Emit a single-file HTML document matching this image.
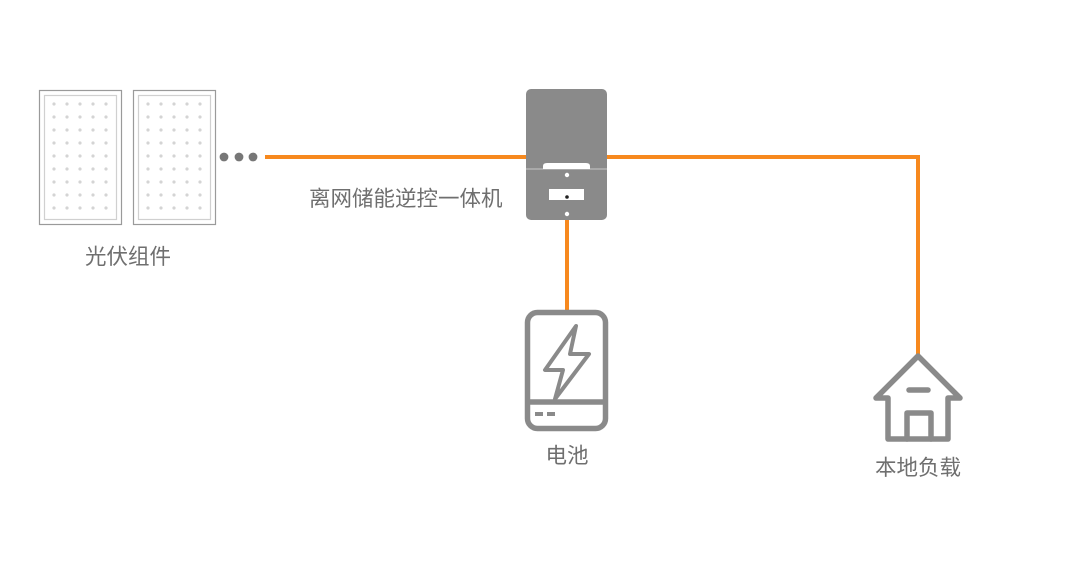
<!DOCTYPE html>
<html><head><meta charset="utf-8"><style>
html,body{margin:0;padding:0;background:#fff}
svg text{font-family:"Liberation Sans","Noto Sans CJK SC",sans-serif;fill:#6f6f6f;font-size:21.5px}
</style></head><body>
<svg width="1080" height="579" viewBox="0 0 1080 579" xmlns="http://www.w3.org/2000/svg">
<defs>
<g id="dots" fill="#d4d4d4">
<circle cx="0" cy="0" r="1.6"/><circle cx="13" cy="0" r="1.6"/><circle cx="26" cy="0" r="1.6"/><circle cx="39" cy="0" r="1.6"/><circle cx="52" cy="0" r="1.6"/>
</g>
<g id="panel">
<rect x="0.5" y="0.5" width="82" height="134" fill="#fff" stroke="#9a9a9a" stroke-width="1.2"/>
<rect x="5.5" y="5.5" width="72" height="124" fill="none" stroke="#d0d0d0" stroke-width="1.2"/>
<use href="#dots" x="15" y="14"/><use href="#dots" x="15" y="27"/><use href="#dots" x="15" y="40"/>
<use href="#dots" x="15" y="53"/><use href="#dots" x="15" y="66"/><use href="#dots" x="15" y="79"/>
<use href="#dots" x="15" y="92"/><use href="#dots" x="15" y="105"/><use href="#dots" x="15" y="118"/>
</g>
</defs>
<use href="#panel" x="39" y="90"/>
<use href="#panel" x="133" y="90"/>
<g fill="#777"><circle cx="224" cy="157" r="4.4"/><circle cx="239" cy="157" r="4.4"/><circle cx="253" cy="157" r="4.4"/></g>
<g stroke="#f7891e" stroke-width="4" fill="none">
<line x1="265" y1="157" x2="528" y2="157"/>
<polyline points="606,157 918,157 918,356"/>
<line x1="567" y1="218" x2="567" y2="312"/>
</g>
<rect x="526" y="89" width="81" height="131" rx="5" fill="#8a8a8a"/>
<line x1="526" y1="169" x2="607" y2="169" stroke="#c8c8c8" stroke-width="1"/>
<path d="M543 169 L543 166 Q543 163 547 163 L586 163 Q590 163 590 166 L590 169 Z" fill="#fff"/>
<circle cx="567" cy="175" r="2.2" fill="#fff"/>
<rect x="549" y="189" width="35" height="11" fill="#fff"/>
<circle cx="567" cy="197" r="1.8" fill="#222"/>
<circle cx="567" cy="214" r="2.2" fill="#fff"/>
<g stroke="#8a8a8a" stroke-width="5.5" fill="none" stroke-linejoin="round" stroke-linecap="round">
<rect x="527.5" y="312.5" width="78" height="116" rx="10"/>
<line x1="530" y1="402" x2="603" y2="402"/>
<path d="M576 326 L545 370 L563 370 L555 399 L589 354 L570 354 Z" stroke-width="4"/>
<path d="M918 356 L876 398 L888 398 L888 439 L948 439 L948 398 L960 398 Z"/>
<path d="M907 439 L907 413 L931 413 L931 439"/>
<line x1="909" y1="390" x2="928" y2="390"/>
</g>
<g stroke="#8a8a8a" stroke-width="4"><line x1="535" y1="414" x2="543" y2="414"/><line x1="547" y1="414" x2="555" y2="414"/></g>
<text x="309" y="206">离网储能逆控一体机</text>
<text x="128" y="264" text-anchor="middle">光伏组件</text>
<text x="567" y="463" text-anchor="middle">电池</text>
<text x="918" y="475" text-anchor="middle">本地负载</text>
</svg>
</body></html>
